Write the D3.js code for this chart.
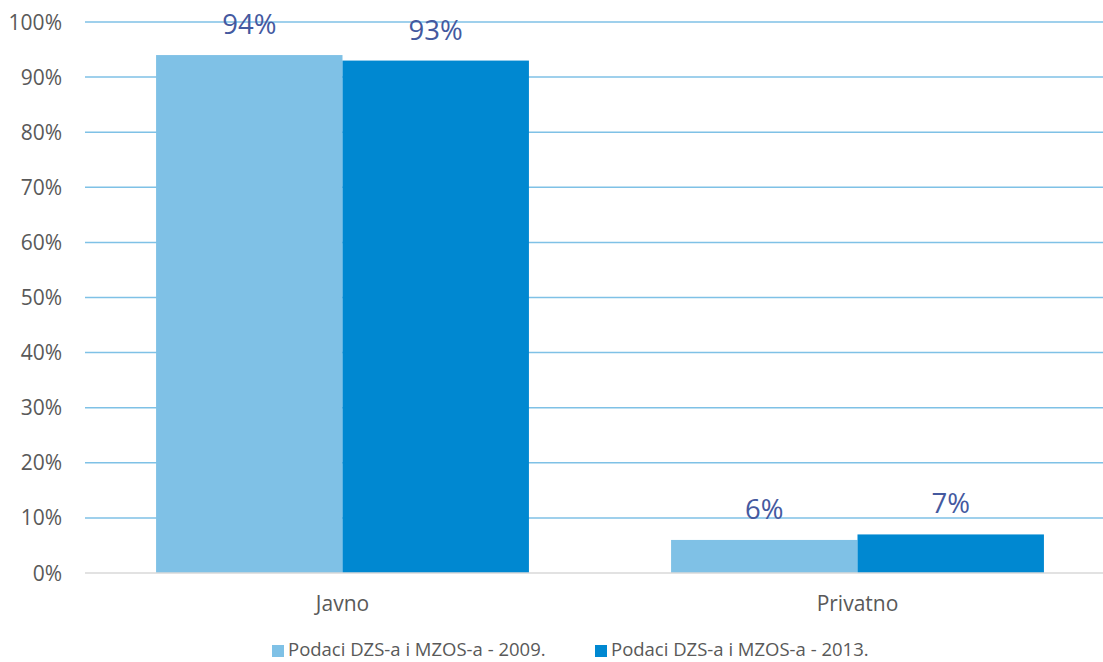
<!DOCTYPE html>
<html><head><meta charset="utf-8">
<script src="https://cdn.jsdelivr.net/npm/d3@7"></script>
<style>html,body{margin:0;padding:0;background:#fff;}svg{display:block;}</style>
</head><body>
<svg id="c" width="1103" height="662"></svg>
<script>
const categories = ["Javno", "Privatno"];
const seriesNames = ["Podaci DZS-a i MZOS-a - 2009.", "Podaci DZS-a i MZOS-a - 2013."];
const values2009 = [0.94, 0.06];
const values2013 = [0.93, 0.07];
const yTicks = [0, 0.1, 0.2, 0.3, 0.4, 0.5, 0.6, 0.7, 0.8, 0.9, 1.0];
const colors = ["#7FC1E6", "#0088D1"];

const svg = d3.select("#c");
const font = "'Open Sans', sans-serif";
const y = d3.scaleLinear().domain([0, 1]).range([573, 22]);
const x0 = d3.scaleBand().domain(categories).range([85, 1115]).paddingInner(0.276).paddingOuter(0.138);
const x1 = d3.scaleBand().domain([0, 1]).range([0, x0.bandwidth()]);

// gridlines
svg.append("g").selectAll("line").data(yTicks.filter(d => d > 0)).join("line")
  .attr("x1", 85).attr("x2", 1103)
  .attr("y1", d => y(d)).attr("y2", d => y(d))
  .attr("stroke", "#7FC1E6").attr("stroke-width", 1.5);

// y tick labels
svg.append("g").selectAll("text").data(yTicks).join("text")
  .attr("x", 62).attr("y", d => y(d) + 7.5)
  .attr("text-anchor", "end")
  .attr("font-family", font).attr("font-size", 21).attr("fill", "#595959")
  .text(d => d3.format(".0%")(d));

const series = [values2009, values2013];
series.forEach((vals, si) => {
  const g = svg.append("g");
  g.selectAll("rect").data(categories).join("rect")
    .attr("x", (c) => x0(c) + x1(si))
    .attr("y", (c, i) => y(vals[i]))
    .attr("width", x1.bandwidth())
    .attr("height", (c, i) => y(0) - y(vals[i]))
    .attr("fill", colors[si]);
  g.selectAll("text").data(categories).join("text")
    .attr("x", (c) => x0(c) + x1(si) + x1.bandwidth() / 2)
    .attr("y", (c, i) => y(vals[i]) - 21)
    .attr("text-anchor", "middle")
    .attr("font-family", font).attr("font-size", 27.5).attr("fill", "#44599F")
    .text((c, i) => d3.format(".0%")(vals[i]));
});

// baseline
svg.append("line").attr("x1", 85).attr("x2", 1103).attr("y1", y(0)).attr("y2", y(0))
  .attr("stroke", "#D9D9D9").attr("stroke-width", 1.5);

// category labels
svg.append("g").selectAll("text").data(categories).join("text")
  .attr("x", c => x0(c) + x0.bandwidth() / 2).attr("y", 611)
  .attr("text-anchor", "middle")
  .attr("font-family", font).attr("font-size", 21).attr("fill", "#595959")
  .text(c => c);

// legend
const legX = [272, 595];
const leg = svg.append("g");
seriesNames.forEach((name, i) => {
  leg.append("rect").attr("x", legX[i]).attr("y", 645).attr("width", 12).attr("height", 12).attr("fill", colors[i]);
  leg.append("text").attr("x", legX[i] + 16).attr("y", 656)
    .attr("font-family", font).attr("font-size", 18.5).attr("fill", "#595959").text(name);
});
</script>
</body></html>
